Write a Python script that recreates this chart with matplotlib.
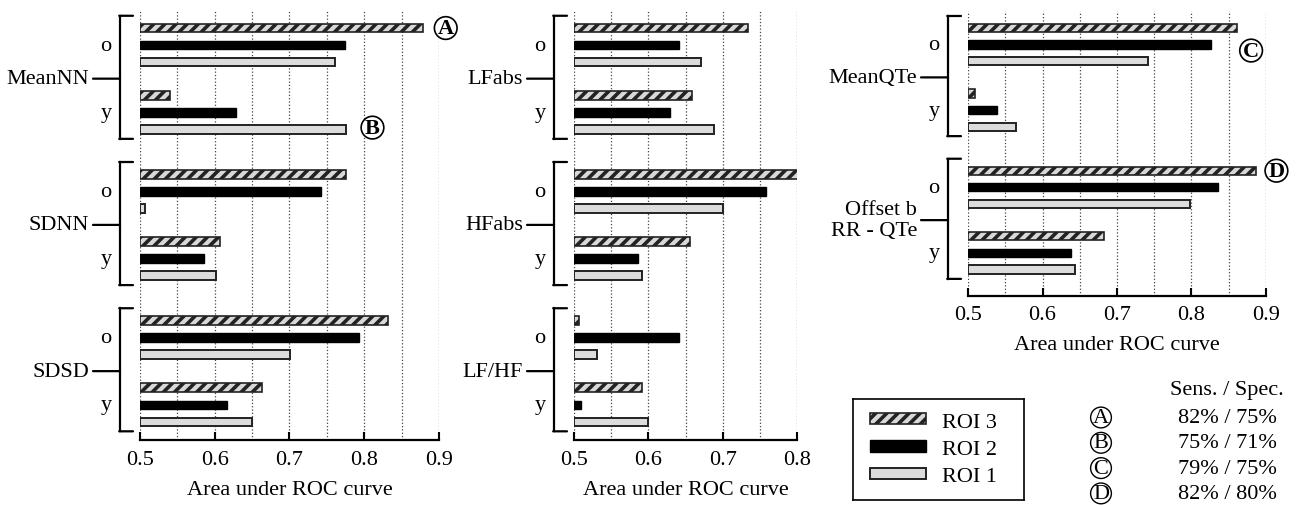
import numpy as np
import matplotlib
matplotlib.use('Agg')
import matplotlib.pyplot as plt
from matplotlib.patches import Patch
from matplotlib.transforms import blended_transform_factory, ScaledTranslation

plt.rcParams['font.family'] = ['Liberation Serif', 'DejaVu Serif']
plt.rcParams['hatch.linewidth'] = 2.6
plt.rcParams['hatch.color'] = '#222222'

# data: AUC per feature, order is (o, y) for each feature
groups = ['o', 'y']

left_features = ['MeanNN', 'SDNN', 'SDSD']
left_roi3 = [0.878, 0.540, 0.775, 0.607, 0.832, 0.663]
left_roi2 = [0.774, 0.629, 0.742, 0.586, 0.793, 0.617]
left_roi1 = [0.761, 0.775, 0.507, 0.602, 0.701, 0.650]

mid_features = ['LFabs', 'HFabs', 'LF/HF']
mid_roi3 = [0.734, 0.659, 0.807, 0.656, 0.507, 0.592]
mid_roi2 = [0.641, 0.629, 0.758, 0.586, 0.641, 0.510]
mid_roi1 = [0.671, 0.688, 0.701, 0.592, 0.531, 0.600]

right_features = ['MeanQTe', 'Offset b\nRR - QTe']
right_roi3 = [0.861, 0.510, 0.886, 0.683]
right_roi2 = [0.826, 0.539, 0.836, 0.638]
right_roi1 = [0.742, 0.565, 0.798, 0.644]

table_letters = ['A', 'B', 'C', 'D']
table_sens = [82, 75, 79, 82]
table_spec = [75, 71, 75, 80]

roi_names = ['ROI 3', 'ROI 2', 'ROI 1']
BASE = 0.5
CAT_STEP = 8.59
GROUP_OFF = [0.0, 3.95]
FS = 16

styles = {
    'ROI 3': dict(facecolor='#d8d8d8', edgecolor='#222222', hatch='///', linewidth=1.2),
    'ROI 2': dict(facecolor='black', edgecolor='black', linewidth=1.0),
    'ROI 1': dict(facecolor='#dcdcdc', edgecolor='#222222', linewidth=1.4),
}

W, H = 1297, 506
fig = plt.figure(figsize=(W / 100, H / 100), dpi=100)


def px_off(ax, dx):
    # x in axes fraction shifted by dx pixels, y in data
    return blended_transform_factory(ax.transAxes, ax.transData) + \
        ScaledTranslation(dx / 100, 0, fig.dpi_scale_trans)


def hline(ax, y, x0, x1):
    ax.annotate('', xy=(0, y), xycoords=px_off(ax, x1),
                xytext=(0, y), textcoords=px_off(ax, x0),
                arrowprops=dict(arrowstyle='-', lw=1.6, shrinkA=0, shrinkB=0))


def draw_panel(rect, features, roi3, roi2, roi1, xmax, ylim):
    ax = fig.add_axes(rect)
    series = [roi3, roi2, roi1]
    for r, (name, vals) in enumerate(zip(roi_names, series)):
        pos = []
        for i in range(len(features)):
            for g in range(2):
                pos.append(i * CAT_STEP + GROUP_OFF[g] + r)
        vals = np.array(vals)
        ax.barh(pos, vals - BASE, left=BASE, height=0.5, **styles[name])

    ticks = np.arange(0.5, xmax + 0.001, 0.1)
    ax.set_xlim(BASE, xmax)
    ax.set_ylim(ylim)
    ax.set_xticks(ticks)
    ax.set_xticks(np.arange(0.5, xmax + 0.001, 0.05), minor=True)
    ax.set_xticklabels(['%.1f' % t for t in ticks])
    ax.set_yticks([])
    ax.grid(axis='x', which='both', linestyle=':', color='#444444', linewidth=0.9)
    ax.set_axisbelow(True)
    for s in ['top', 'right', 'left']:
        ax.spines[s].set_visible(False)
    ax.spines['bottom'].set_linewidth(1.6)
    ax.tick_params(axis='x', which='major', direction='in', length=6, width=1.5,
                   labelsize=FS, pad=7)
    ax.tick_params(axis='x', which='minor', length=0)
    ax.set_xlabel('Area under ROC curve', fontsize=FS, labelpad=8)

    # brackets and labels
    for i, feat in enumerate(features):
        top = i * CAT_STEP - 0.72
        bot = i * CAT_STEP + GROUP_OFF[1] + 2 + 0.56
        mid = i * CAT_STEP + (GROUP_OFF[1] + 2) / 2
        ax.plot([0, 0], [top, bot], color='black', lw=1.6,
                transform=px_off(ax, -20), clip_on=False)
        hline(ax, top, -20.8, -7)
        hline(ax, bot, -20.8, -7)
        hline(ax, mid, -47, -20)
        ax.text(0, mid, feat, transform=px_off(ax, -51), ha='right', va='center',
                fontsize=FS, linespacing=1.15)
        for g, lab in enumerate(groups):
            ax.text(0, i * CAT_STEP + GROUP_OFF[g] + 1, lab, transform=px_off(ax, -34),
                    ha='center', va='center', fontsize=FS)
    return ax


def circled(ax, x, y, letter):
    ax.text(x, y, letter, fontsize=FS, fontweight='bold', ha='center', va='center',
            clip_on=False, zorder=5,
            bbox=dict(boxstyle='circle,pad=0.06', fc='white', ec='black', lw=1.2))


ax1 = draw_panel([140 / W, 1 - 441 / H, 299 / W, 429 / H], left_features,
                 left_roi3, left_roi2, left_roi1, 0.9, (24.2, -1.0))
ax2 = draw_panel([574 / W, 1 - 441 / H, 223 / W, 429 / H], mid_features,
                 mid_roi3, mid_roi2, mid_roi1, 0.8, (24.2, -1.0))
ax3 = draw_panel([968 / W, 1 - 296.5 / H, 298 / W, 284.5 / H], right_features,
                 right_roi3, right_roi2, right_roi1, 0.9, (16.1, -1.02))

circled(ax1, 0.909, 0.0, 'A')
circled(ax1, 0.811, 5.85, 'B')
circled(ax3, 0.880, 1.36, 'C')
circled(ax3, 0.914, CAT_STEP, 'D')

# legend box
lax = fig.add_axes([853 / W, 1 - 501 / H, 171 / W, 101 / H])
lax.set_xticks([])
lax.set_yticks([])
for s in lax.spines.values():
    s.set_linewidth(1.2)
handles = [Patch(**styles[n]) for n in roi_names]
lax.legend(handles, roi_names, loc='center', frameon=False, fontsize=FS,
           handlelength=2.55, handleheight=0.4, handletextpad=0.7,
           labelspacing=0.38, bbox_to_anchor=(0.47, 0.5))

# sensitivity / specificity table
fig.text(1227 / W, 1 - 391 / H, 'Sens. / Spec.', ha='center', va='center', fontsize=FS)
for k, letter in enumerate(table_letters):
    yk = 1 - (418.5 + 25.3 * k) / H
    fig.text(1101 / W, yk, letter, ha='center', va='center', fontsize=FS,
             bbox=dict(boxstyle='circle,pad=0.04', fc='white', ec='black', lw=1.0))
    fig.text(1227 / W, yk, '%d%% / %d%%' % (table_sens[k], table_spec[k]),
             ha='center', va='center', fontsize=FS)

fig.savefig('out.png', dpi=100)
